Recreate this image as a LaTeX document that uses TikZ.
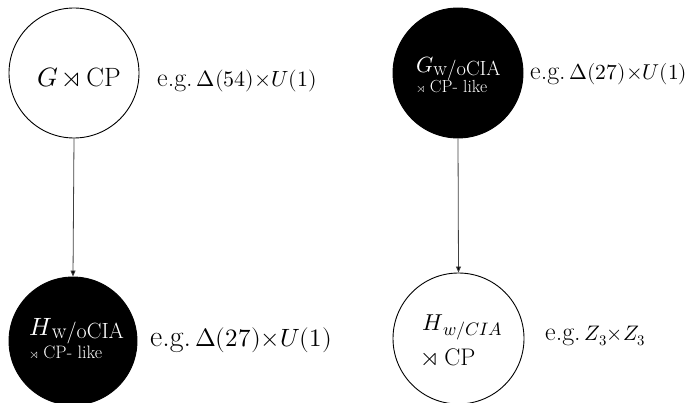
\documentclass[tikz,border=0pt]{standalone}
\usepackage{unicode-math}
\setmathfont{Latin Modern Math}
\usetikzlibrary{arrows.meta}
\newcommand{\fsz}[1]{\fontsize{#1}{#1}\selectfont}
\newcommand{\egtxt}[3]{{\fsz{#1}e.g.}\hspace{4pt}{\fsz{#2}$#3$}}
\begin{document}
\begin{tikzpicture}[x=1pt,y=-1pt,
  whitecirc/.style={circle,draw=black,line width=0.9pt,fill=white,minimum size=#1,inner sep=0pt},
  blackcirc/.style={circle,draw=black,line width=0.9pt,fill=black,minimum size=#1,inner sep=0pt},
  txt/.style={anchor=base west,inner sep=0pt,font=\fsz{#1}},
  wtxt/.style={txt=#1,text=white},
  conn/.style={draw=black!75,line width=0.8pt,-{Triangle[length=6pt,width=5pt,fill=black]}}]
\useasboundingbox (0,0) rectangle (695,403);
% circles
\node[whitecirc=130pt] (g) at (74,73) {};
\node[blackcirc=130pt] (gw) at (458,73) {};
\node[blackcirc=128pt] (hw) at (73,341) {};
\node[whitecirc=131pt] (hc) at (458.5,338.5) {};
% texts inside
\node[txt=26.5pt] (gt) at (37,87) {$G \rtimes \mathrm{CP}$};
\node[wtxt=22pt] (gwt1) at (416,73) {$G$\raisebox{-2.5pt}{\fsz{20.5pt}w/oCIA}};
\node[wtxt=17.5pt] (gwt2) at (417,93) {{\fsz{12pt}$\rtimes$} CP- like};
\node[wtxt=25pt] (hwt1) at (29,335) {$H$\raisebox{-3pt}{\fsz{22pt}w/oCIA}};
\node[wtxt=18pt] (hwt2) at (30,358) {{\fsz{12.5pt}$\rtimes$} CP- like};
\node[txt=23pt] (hct1) at (422,330) {$H$\raisebox{-5pt}{\fsz{18pt}$w/CIA$}};
\node[txt=24pt] (hct2) at (422,365) {$\rtimes$ CP};
% labels
\node[txt=22pt] (l1) at (157,87) {\egtxt{26pt}{22pt}{\Delta(54){\times}U(1)}};
\node[txt=22pt] (l2) at (530,80) {\egtxt{26pt}{21.5pt}{\Delta(27){\times}U(1)}};
\node[txt=25pt] (l3) at (150,346) {\egtxt{30pt}{25pt}{\Delta(27){\times}U(1)}};
\node[txt=22pt] (l4) at (545,340) {\egtxt{26pt}{21pt}{Z_3{\times}Z_3}};
% connectors
\draw[conn] (g.south) -- (hw.north);
\draw[conn] (gw.south) -- (hc.north);
\end{tikzpicture}
\end{document}
